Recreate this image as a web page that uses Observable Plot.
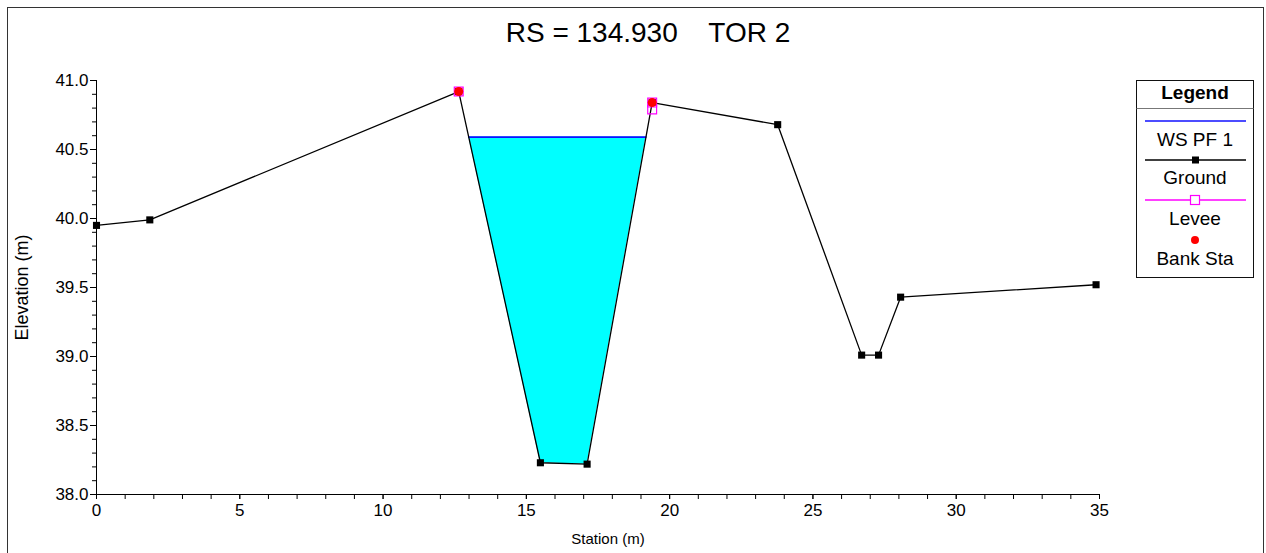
<!DOCTYPE html>
<html><head><meta charset="utf-8">
<script src="https://cdn.jsdelivr.net/npm/d3@7"></script>
<script src="https://cdn.jsdelivr.net/npm/@observablehq/plot@0.6"></script>
<style>
html,body{margin:0;padding:0;background:#fff;overflow:hidden}
#wrap{position:relative;width:1266px;height:553px;overflow:hidden;font-family:"Liberation Sans",Arial,sans-serif}
#chart{position:absolute;left:0;top:0}
#border{position:absolute;left:7px;top:7px;width:1257px;height:600px;border:1px solid #333;box-sizing:border-box;pointer-events:none}
#legend{position:absolute;left:1136px;top:80px}
svg text{white-space:pre}
</style></head><body>
<div id="wrap"><div id="chart"></div><div id="border"></div><svg id="legend" width="122" height="202"></svg></div>
<script>
const title = "RS = 134.930    TOR 2";
const xLabel = "Station (m)";
const yLabel = "Elevation (m)";
const groundStation = [0, 1.86, 12.64, 15.49, 17.12, 19.39, 23.77, 26.70, 27.29, 28.06, 34.88];
const groundElev    = [39.95, 39.99, 40.92, 38.23, 38.22, 40.84, 40.68, 39.01, 39.01, 39.43, 39.52];
const wsElev = 40.59;
const bankStation = [12.64, 19.39];
const bankElev    = [40.92, 40.84];
const leveeStation = [12.64, 19.39, 19.39];
const leveeElev    = [40.92, 40.84, 40.79];
const xTicksMajor = [0, 5, 10, 15, 20, 25, 30, 35];
const xTicksMinor = d3.range(0, 36, 1);
const yTicksMajor = [38.0, 38.5, 39.0, 39.5, 40.0, 40.5, 41.0];
const yTicksMinor = d3.range(380, 411, 1).map(v => v / 10);
const legendLabels = ["WS PF 1", "Ground", "Levee", "Bank Sta"];
const legendTitle = "Legend";

const ground = groundStation.map((x, i) => ({x, y: groundElev[i]}));
const banks = bankStation.map((x, i) => ({x, y: bankElev[i]}));
const levees = leveeStation.map((x, i) => ({x, y: leveeElev[i]}));

// water surface within channel (between bank stations)
const lb = bankStation[0], rb = bankStation[1];
const chan = ground.filter(d => d.x >= lb && d.x <= rb);
const water = [];
for (let i = 0; i < chan.length - 1; i++) {
  const a = chan[i], b = chan[i + 1];
  if (a.y < wsElev) water.push({x: a.x, y1: a.y, y2: wsElev});
  if ((a.y - wsElev) * (b.y - wsElev) < 0) {
    const t = (wsElev - a.y) / (b.y - a.y);
    water.push({x: a.x + t * (b.x - a.x), y1: wsElev, y2: wsElev});
  }
}
const last = chan[chan.length - 1];
if (last.y < wsElev) water.push({x: last.x, y1: last.y, y2: wsElev});
const wsLine = [{x: water[0].x, y: wsElev}, {x: water[water.length - 1].x, y: wsElev}];

const chart = Plot.plot({
  width: 1266, height: 553,
  marginLeft: 96, marginRight: 167, marginTop: 80, marginBottom: 59,
  style: {fontFamily: "Liberation Sans, Arial, sans-serif", fontSize: "16px", background: "white", color: "black"},
  x: {domain: [0, 35], label: null},
  y: {domain: [38, 41], label: null},
  marks: [
    Plot.areaY(water, {x: "x", y1: "y1", y2: "y2", fill: "#00ffff", fillOpacity: 1}),
    Plot.line(wsLine, {x: "x", y: "y", stroke: "#1010ff", strokeWidth: 1.6}),
    Plot.axisX({ticks: xTicksMinor, tickSize: 5, tickFormat: () => "", label: null}),
    Plot.axisX({ticks: xTicksMajor, tickSize: 5, tickPadding: 4, tickFormat: d => String(d), fontSize: 17, label: null}),
    Plot.axisY({ticks: yTicksMinor, tickSize: 4, tickFormat: () => "", label: null}),
    Plot.axisY({ticks: yTicksMajor, tickSize: 6, tickPadding: 2, tickFormat: d3.format(".1f"), fontSize: 17, label: null}),
    Plot.ruleX([0], {stroke: "black"}),
    Plot.ruleY([38], {stroke: "black"}),
    Plot.line(ground, {x: "x", y: "y", stroke: "black", strokeWidth: 1.3}),
    Plot.dot(ground, {x: "x", y: "y", symbol: "square", r: 4, fill: "black", stroke: "none"}),
    Plot.dot(levees, {x: "x", y: "y", symbol: "square", r: 5, fill: "none", stroke: "#ff00ff", strokeWidth: 1.2}),
    Plot.dot(banks, {x: "x", y: "y", r: 4.5, fill: "#ff0000", stroke: "none"}),
    Plot.text([title], {frameAnchor: "top", dy: -58, dx: 50, fontSize: 28, fill: "black"}),
    Plot.text([xLabel], {frameAnchor: "bottom", dy: 49, dx: 10, fontSize: 15, fill: "black"}),
    Plot.text([yLabel], {frameAnchor: "left", dx: -74, rotate: -90, textAnchor: "middle", fontSize: 18, fill: "black"})
  ]
});
document.getElementById("chart").appendChild(chart);

// legend
const lg = d3.select("#legend");
lg.append("rect").attr("x", 0.5).attr("y", 0.5).attr("width", 117).attr("height", 197)
  .attr("fill", "white").attr("stroke", "#111");
lg.append("line").attr("x1", 0.5).attr("x2", 117.5).attr("y1", 28.5).attr("y2", 28.5).attr("stroke", "#777");
lg.append("text").attr("x", 59).attr("y", 19).attr("text-anchor", "middle")
  .attr("font-family", "Liberation Sans, Arial").attr("font-weight", "bold").attr("font-size", 19).text(legendTitle);
const lineY = [41, 80, 120, 160];
const textY = [66, 104, 145, 185];
const lineCol = ["#1010ff", "black", "#ff00ff", null];
legendLabels.forEach((lab, i) => {
  if (lineCol[i]) lg.append("line").attr("x1", 9).attr("x2", 110).attr("y1", lineY[i]).attr("y2", lineY[i])
    .attr("stroke", lineCol[i]).attr("stroke-width", 1.4);
  if (i === 1) lg.append("rect").attr("x", 56).attr("y", lineY[i] - 3.5).attr("width", 7).attr("height", 7).attr("fill", "black");
  if (i === 2) lg.append("rect").attr("x", 54.5).attr("y", lineY[i] - 4.5).attr("width", 9).attr("height", 9).attr("fill", "white").attr("stroke", "#ff00ff").attr("stroke-width", 1.2);
  if (i === 3) lg.append("circle").attr("cx", 59).attr("cy", lineY[i]).attr("r", 4).attr("fill", "red");
  lg.append("text").attr("x", 59).attr("y", textY[i]).attr("text-anchor", "middle")
    .attr("font-family", "Liberation Sans, Arial").attr("font-size", 19).text(lab);
});
</script>
</body></html>
